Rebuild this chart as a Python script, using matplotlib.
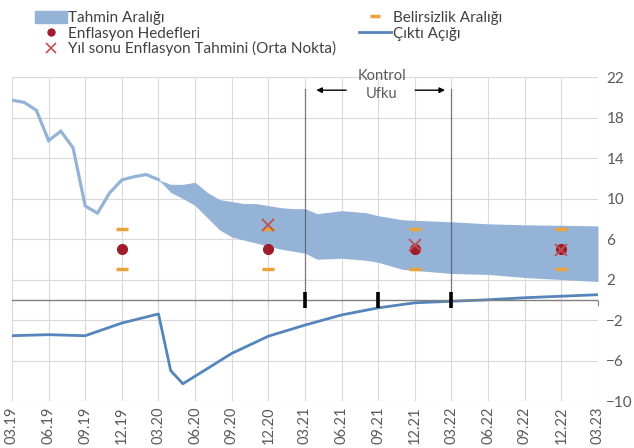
import matplotlib
matplotlib.use("Agg")
import matplotlib.pyplot as plt
from matplotlib.patches import Patch
from matplotlib.lines import Line2D

plt.rcParams['font.family'] = ['Lato', 'DejaVu Sans']

# quarter labels on the x axis (one label every 3 months, month 0 = 03.19)
quarter_labels = ['03.19', '06.19', '09.19', '12.19', '03.20', '06.20', '09.20', '12.20',
                  '03.21', '06.21', '09.21', '12.21', '03.22', '06.22', '09.22', '12.22', '03.23']

# realised annual CPI inflation, monthly, 03.19 - 03.20
cpi_months = list(range(13))
cpi_values = [19.71, 19.50, 18.71, 15.72, 16.65, 15.01, 9.26, 8.55, 10.56, 11.84, 12.15, 12.37, 11.86]

# forecast band (month index, lower, upper)
band_months = [12, 13, 14, 15, 16, 17, 18, 19, 20, 21, 22, 23, 24, 25, 27, 29, 30, 32, 36, 39, 42, 48]
band_lower = [11.86, 10.6, 10.0, 9.3, 8.1, 6.9, 6.2, 5.9, 5.6, 5.3, 5.0, 4.8, 4.6, 4.0, 4.1, 3.9, 3.7,
              3.0, 2.6, 2.5, 2.2, 1.8]
band_upper = [11.86, 11.4, 11.4, 11.6, 10.6, 9.9, 9.7, 9.5, 9.5, 9.3, 9.1, 9.0, 9.0, 8.5, 8.8, 8.6, 8.3,
              7.9, 7.7, 7.5, 7.4, 7.3]

# year-end targets, uncertainty band and mid-point forecasts
target_labels = ['12.19', '12.20', '12.21', '12.22']
targets = [5, 5, 5, 5]
uncert_low = [3, 3, 3, 3]
uncert_high = [7, 7, 7, 7]
forecast_labels = ['12.20', '12.21', '12.22']
forecasts = [7.4, 5.4, 4.9]

# output gap
gap_months = [0, 3, 6, 9, 12, 13, 14, 18, 21, 24, 27, 30, 33, 36, 39, 42, 45, 48]
gap_values = [-3.55, -3.45, -3.55, -2.3, -1.4, -7.0, -8.3, -5.3, -3.6, -2.5, -1.5, -0.8, -0.3,
              -0.15, 0.0, 0.2, 0.35, 0.5]

control_ticks = ['03.21', '09.21', '03.22']
horizon = ['03.21', '03.22']


def mon(lbl):
    return quarter_labels.index(lbl) * 3


light_blue = '#95B3D7'
dark_blue = '#5585BA'
grey = '#595959'

fig = plt.figure(figsize=(6.34, 4.48), dpi=100)
ax = fig.add_axes([0.0189, 0.1049, 0.9243, 0.7232])

ax.fill_between(band_months, band_lower, band_upper, color=light_blue, lw=0, zorder=2)
ax.plot(cpi_months, cpi_values, color=light_blue, lw=2.3, zorder=3, solid_joinstyle='miter')
ax.plot(gap_months, gap_values, color=dark_blue, lw=2.0, zorder=3)

tx = [mon(l) for l in target_labels]
ax.plot(tx, uncert_low, ls='none', marker='_', ms=9, mew=2.5, color='#E8A33D', zorder=4)
ax.plot(tx, uncert_high, ls='none', marker='_', ms=9, mew=2.5, color='#E8A33D', zorder=4)
ax.plot(tx, targets, ls='none', marker='o', ms=7, color='#A01C2C', zorder=5)
ax.plot([mon(l) for l in forecast_labels], forecasts, ls='none', marker='x', ms=8, mew=1.3,
        color='#C0504D', zorder=6)

# control horizon
for l in horizon:
    ax.plot([mon(l), mon(l)], [0, 20.9], color='#404040', lw=0.9, ls=(0, (1, 0.6)), zorder=4)
ax.annotate('', xy=(24.7, 20.7), xytext=(27.6, 20.7),
            arrowprops=dict(arrowstyle='-|>', color='black', lw=1.0, mutation_scale=8))
ax.annotate('', xy=(35.7, 20.7), xytext=(32.8, 20.7),
            arrowprops=dict(arrowstyle='-|>', color='black', lw=1.0, mutation_scale=8))
ax.text(30.3, 22.1, 'Kontrol', ha='center', va='center', fontsize=10.5, color=grey)
ax.text(30.3, 20.3, 'Ufku', ha='center', va='center', fontsize=10.5, color=grey)

# zero axis with quarter ticks
ax.axhline(0, color='#808080', lw=1.0, zorder=3)
sec = ax.secondary_xaxis(10 / 32)
sec.set_xticks(range(0, 49, 3))
sec.set_xticklabels([])
sec.tick_params(direction='out', length=4, color='#808080', width=0.8)
sec.spines['bottom'].set_visible(False)
sec.spines['top'].set_visible(False)
ax.plot([mon(l) for l in control_ticks], [0] * len(control_ticks), ls='none', marker='|',
        ms=11, mew=2.6, color='black', zorder=7)

ax.set_xlim(0, 48)
ax.set_ylim(-10, 22)
ax.set_xticks(range(0, 49, 3))
ax.set_xticklabels(quarter_labels, rotation=90, fontsize=10.5, color=grey)
ax.set_yticks(range(-10, 23, 4))
ax.yaxis.tick_right()
ax.tick_params(axis='both', length=0, labelcolor=grey)
ax.tick_params(axis='y', labelsize=11, pad=6)
ax.tick_params(axis='x', pad=4)
ax.grid(True, color='#D9D9D9', lw=0.8, zorder=0)
ax.set_axisbelow(True)
for s in ax.spines.values():
    s.set_visible(False)

handles = [Patch(color=light_blue),
           Line2D([], [], ls='none', marker='o', ms=5, color='#A01C2C'),
           Line2D([], [], ls='none', marker='x', ms=7, mew=1.2, color='#C0504D'),
           Line2D([], [], ls='none', marker='_', ms=7, mew=2.5, color='#E8A33D'),
           Line2D([], [], color=dark_blue, lw=2)]
labels = ['Tahmin Aralığı', 'Enflasyon Hedefleri', 'Yıl sonu Enflasyon Tahmini (Orta Nokta)',
          'Belirsizlik Aralığı', 'Çıktı Açığı']
fig.legend(handles, labels, loc='upper left', bbox_to_anchor=(0.045, 0.99), ncol=2, frameon=False,
           fontsize=11, handlelength=2.1, handletextpad=0.1, labelspacing=0.05,
           columnspacing=1.5, labelcolor='#404040', borderaxespad=0, handleheight=0.9)

fig.savefig('out.png', dpi=100)
